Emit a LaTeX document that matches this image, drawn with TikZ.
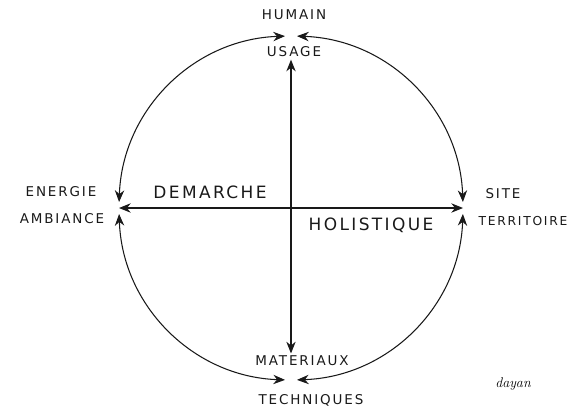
\documentclass[tikz,border=0pt]{standalone}
\usepackage{fontspec}
\newfontfamily\handfont[LetterSpace=14]{DejaVu Sans}
\usetikzlibrary{arrows.meta}

\begin{document}
\begin{tikzpicture}[x=0.03cm, y=0.03cm,
    arr/.style={{Stealth[length=10pt,width=8pt]}-{Stealth[length=10pt,width=8pt]}, line width=0.9pt, draw=black!90},
    lbl/.style={font=\handfont\fontsize{11.5}{13}\selectfont, text=black!90, inner sep=2pt},
    big/.style={font=\handfont\fontsize{14.5}{16}\selectfont, text=black!90, inner sep=2pt}]
    \useasboundingbox (-291,-204) rectangle (282,208);

    % points on the circle
    \coordinate (O) at (0,0);
    \coordinate (W) at (180:172);
    \coordinate (E) at (0:172);
    \coordinate (nl) at (92:172);
    \coordinate (nr) at (88:172);
    \coordinate (wn) at (178:172);
    \coordinate (ws) at (182:172);
    \coordinate (sl) at (268:172);
    \coordinate (sr) at (272:172);
    \coordinate (es) at (358:172);
    \coordinate (en) at (2:172);

    \node[lbl] (humain) at (3,193) {HUMAIN};
    \node[lbl] (usage) at (3,156) {USAGE};
    \node[lbl] (energie) at (-230,16) {ENERGIE};
    \node[lbl] (ambiance) at (-229,-11) {AMBIANCE};
    \node[lbl] (site) at (212,14) {SITE};
    \node[lbl, font=\handfont\fontsize{10.5}{12}\selectfont] (territoire) at (232,-13) {TERRITOIRE};
    \node[lbl] (materiaux) at (11,-153) {MATERIAUX};
    \node[lbl] (techniques) at (20,-192) {TECHNIQUES};
    \node[big] (demarche) at (-81,16) {DEMARCHE};
    \node[big] (holistique) at (80,-17) {HOLISTIQUE};
    \node[font=\itshape\large] (signature) at (222,-176) {dayan};

    \draw[arr] (nl) to[bend right=43] (wn);
    \draw[arr] (ws) to[bend right=43] (sl);
    \draw[arr] (sr) to[bend right=43] (es);
    \draw[arr] (en) to[bend right=43] (nr);

    \draw[arr] (W) -- (E);
    \draw[arr] (usage.south -| O) -- (materiaux.north -| O);
  \end{tikzpicture}
\end{document}
